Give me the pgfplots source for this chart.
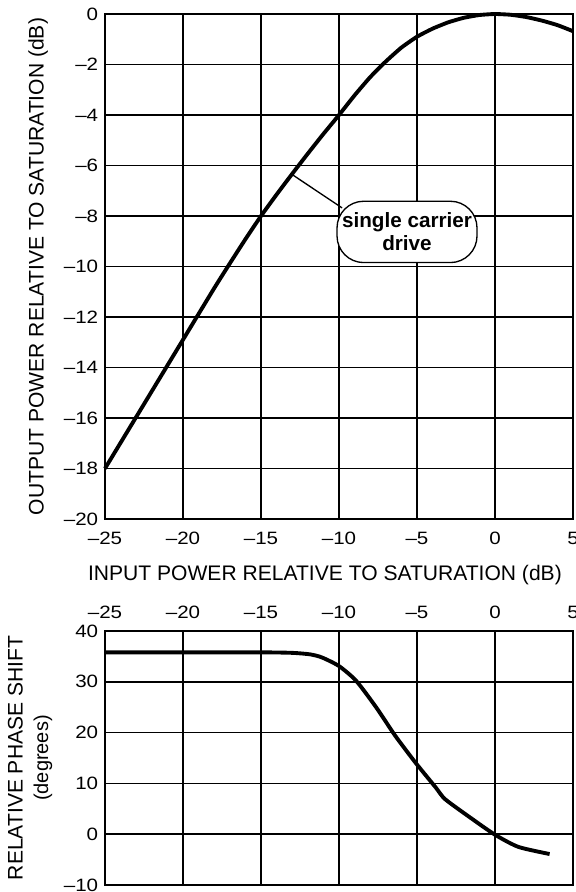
\documentclass[border=0pt]{standalone}
\usepackage{fontspec}
\setmainfont{Liberation Sans}
\newfontfamily\tickfont[FakeStretch=1.15]{Liberation Sans}
\usepackage{pgfplots}
\pgfplotsset{compat=1.18}
\pgfplotsset{
  base/.style={
    scale only axis, width=351pt, xmin=-25, xmax=5,
    xtick={-25,-20,...,5}, xticklabels={–25,–20,–15,–10,–5,0,5},
    grid=major, major grid style={black, line width=1.25pt},
    axis line style={line width=1.5pt}, major tick length=0pt,
    tick label style={font=\tickfont\fontsize{13.4}{15}\selectfont},
    yticklabel style={xshift=-1.6pt},
    label style={font=\fontsize{15.8}{19}\selectfont},
    clip=false,
  }
}
\begin{document}
\begin{tikzpicture}
\begin{axis}[base, at={(0,0)}, anchor=north west, height=378.75pt,
  ymin=-20, ymax=0, ytick={-20,-18,...,0},
  yticklabels={–20,–18,–16,–14,–12,–10,–8,–6,–4,–2,0},
  xticklabel style={anchor=base, yshift=-19pt},
  xlabel={INPUT POWER RELATIVE TO SATURATION (dB)},
  ylabel={OUTPUT POWER RELATIVE TO SATURATION (dB)},
  xlabel style={at={(axis description cs:0.47,0)},anchor=center,yshift=-42pt},
  ylabel style={at={(axis description cs:-0.143,0.5)},anchor=center}]
\addplot[black, line width=2.9pt, smooth, tension=0.3] coordinates {
(-25,-18) (-22.5,-15.45) (-20,-12.9) (-18,-10.86) (-17,-9.88) (-16,-8.92)
(-15,-8) (-14,-7.15) (-13,-6.33) (-12,-5.53) (-11,-4.75) (-10,-4)
(-9,-3.22) (-8,-2.5) (-7,-1.88) (-6,-1.33) (-5,-0.9) (-4,-0.58) (-3,-0.33)
(-2,-0.15) (-1,-0.04) (0,0) (1,-0.03) (2,-0.12) (3,-0.26) (4,-0.44) (5,-0.68)};
\draw[line width=1pt] (axis cs:-12.95,-6.38) -- (axis cs:-9.8,-7.68);
\node[draw, line width=1pt, fill=white, rounded corners=20pt, align=center,
  minimum width=105pt, minimum height=46pt, inner sep=1pt,
  font=\fontsize{15.5}{17}\selectfont\bfseries]
  at (axis cs:-5.64,-8.63) {single carrier\\drive};
\end{axis}
\begin{axis}[base, at={(0,-462.75pt)}, anchor=north west, height=190.5pt,
  ymin=-10, ymax=40, ytick={-10,0,...,40},
  yticklabels={–10,0,10,20,30,40},
  xticklabel pos=upper,
  xticklabel style={anchor=base, yshift=9.5pt},
  ylabel={RELATIVE PHASE SHIFT\\{\fontsize{15}{19}\selectfont (degrees)}},
  ylabel style={align=center, at={(axis description cs:-0.16,0.5)},anchor=center}]
\addplot[black, line width=2.9pt, smooth, tension=0.4] coordinates {
(-25,35.8) (-20,35.8) (-15,35.8) (-13,35.7) (-11.85,35.4) (-11.1,34.8)
(-10,33.1) (-8.9,30.2) (-7.6,24.9) (-6.4,19.4) (-5.1,14.1) (-3.8,9.2)
(-3.2,6.9) (-1.6,3.3) (0,-0.1) (1.5,-2.5) (3.5,-3.9)};
\end{axis}
\pgfresetboundingbox
\path (-78.75pt,10.5pt) rectangle (352.5pt,-658.5pt);
\end{tikzpicture}
\end{document}
